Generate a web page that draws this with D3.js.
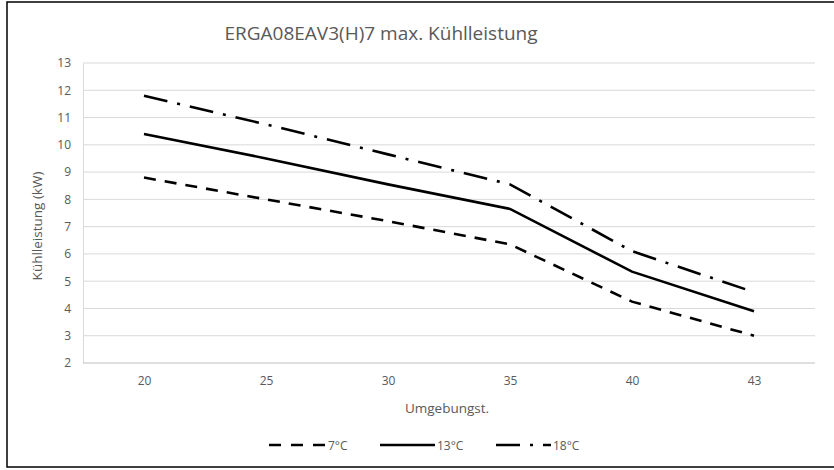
<!DOCTYPE html>
<html>
<head>
<meta charset="utf-8">
<script src="https://cdn.jsdelivr.net/npm/d3@7"></script>
<style>
  body { margin: 0; background: #fff; }
  svg { font-family: "Open Sans", "Liberation Sans", sans-serif; }
  .tick text { fill: #595959; font-size: 12px; font-family: "Open Sans", "Liberation Sans", sans-serif; }
</style>
</head>
<body>
<div id="chart"></div>
<script>
// categories on the x axis (ambient temperature)
var temps = ["20", "25", "30", "35", "40", "43"];
// series values, kW
var s7 = [8.8, 8.0, 7.2, 6.35, 4.25, 3.0];
var s13 = [10.4, 9.5, 8.55, 7.65, 5.35, 3.9];
var s18 = [11.8, 10.75, 9.65, 8.55, 6.1, 4.6];
var seriesNames = ["7°C", "13°C", "18°C"];
var yTicks = [2, 3, 4, 5, 6, 7, 8, 9, 10, 11, 12, 13];

var width = 834, height = 470;
var plotLeft = 83, plotRight = 815, plotTop = 63, plotBottom = 363;

var svg = d3.select("#chart").append("svg")
    .attr("width", width)
    .attr("height", height);

// outer chart border
svg.append("rect")
    .attr("x", 7).attr("y", 2)
    .attr("width", 840).attr("height", 465)
    .attr("fill", "#fff")
    .attr("stroke", "#000")
    .attr("stroke-width", 1.5);

var x = d3.scalePoint()
    .domain(temps)
    .range([plotLeft, plotRight])
    .padding(0.5);

var y = d3.scaleLinear()
    .domain([2, 13])
    .range([plotBottom, plotTop]);

// gridlines
svg.append("g")
    .selectAll("line")
    .data(yTicks.slice(1))
    .enter()
    .append("line")
    .attr("x1", plotLeft).attr("x2", plotRight)
    .attr("y1", function(d) { return y(d); })
    .attr("y2", function(d) { return y(d); })
    .attr("stroke", "#d9d9d9")
    .attr("stroke-width", 1);

// left axis
var yAxis = svg.append("g")
    .attr("transform", "translate(" + plotLeft + ",0)")
    .call(d3.axisLeft(y).tickValues(yTicks).tickSize(0).tickPadding(12));
yAxis.select(".domain").attr("stroke", "#d9d9d9");

// bottom axis
var xAxis = svg.append("g")
    .attr("transform", "translate(0," + plotBottom + ")")
    .call(d3.axisBottom(x).tickSize(0).tickPadding(13));
xAxis.select(".domain").attr("stroke", "#bfbfbf").attr("d", "M" + plotLeft + ",0H" + plotRight);

// title
svg.append("text")
    .attr("x", 381).attr("y", 40)
    .attr("text-anchor", "middle")
    .style("font-size", "19px")
    .attr("fill", "#595959")
    .text("ERGA08EAV3(H)7 max. Kühlleistung");

svg.append("text")
    .attr("transform", "translate(42,226) rotate(-90)")
    .attr("text-anchor", "middle")
    .style("font-size", "13.5px")
    .attr("fill", "#595959")
    .text("Kühlleistung (kW)");

svg.append("text")
    .attr("x", 447).attr("y", 413)
    .attr("text-anchor", "middle")
    .style("font-size", "13.5px")
    .attr("fill", "#595959")
    .text("Umgebungst.");

var dashes = ["12 9", null, "24 10 3 10"];
var allSeries = [s7, s13, s18];

var line = d3.line()
    .x(function(d, i) { return x(temps[i]); })
    .y(function(d) { return y(d); });

svg.append("g")
    .selectAll("path")
    .data(allSeries)
    .enter()
    .append("path")
    .attr("d", line)
    .attr("fill", "none")
    .attr("stroke", "#000")
    .attr("stroke-width", 2.6)
    .attr("stroke-dasharray", function(d, i) { return dashes[i]; });

// legend
var legendX = [269, 380, 496];
var legendLen = [57, 55, 55];
var legendDash = ["12 10", null, "24 10 3 10"];
var leg = svg.append("g")
    .selectAll("g")
    .data(seriesNames)
    .enter()
    .append("g");

leg.append("line")
    .attr("x1", function(d, i) { return legendX[i]; })
    .attr("x2", function(d, i) { return legendX[i] + legendLen[i]; })
    .attr("y1", 445).attr("y2", 445)
    .attr("stroke", "#000")
    .attr("stroke-width", 2.6)
    .attr("stroke-dasharray", function(d, i) { return legendDash[i]; });

leg.append("text")
    .attr("x", function(d, i) { return legendX[i] + legendLen[i] + 2; })
    .attr("y", 449.5)
    .style("font-size", "12px")
    .attr("fill", "#595959")
    .text(function(d) { return d; });
</script>
</body>
</html>
